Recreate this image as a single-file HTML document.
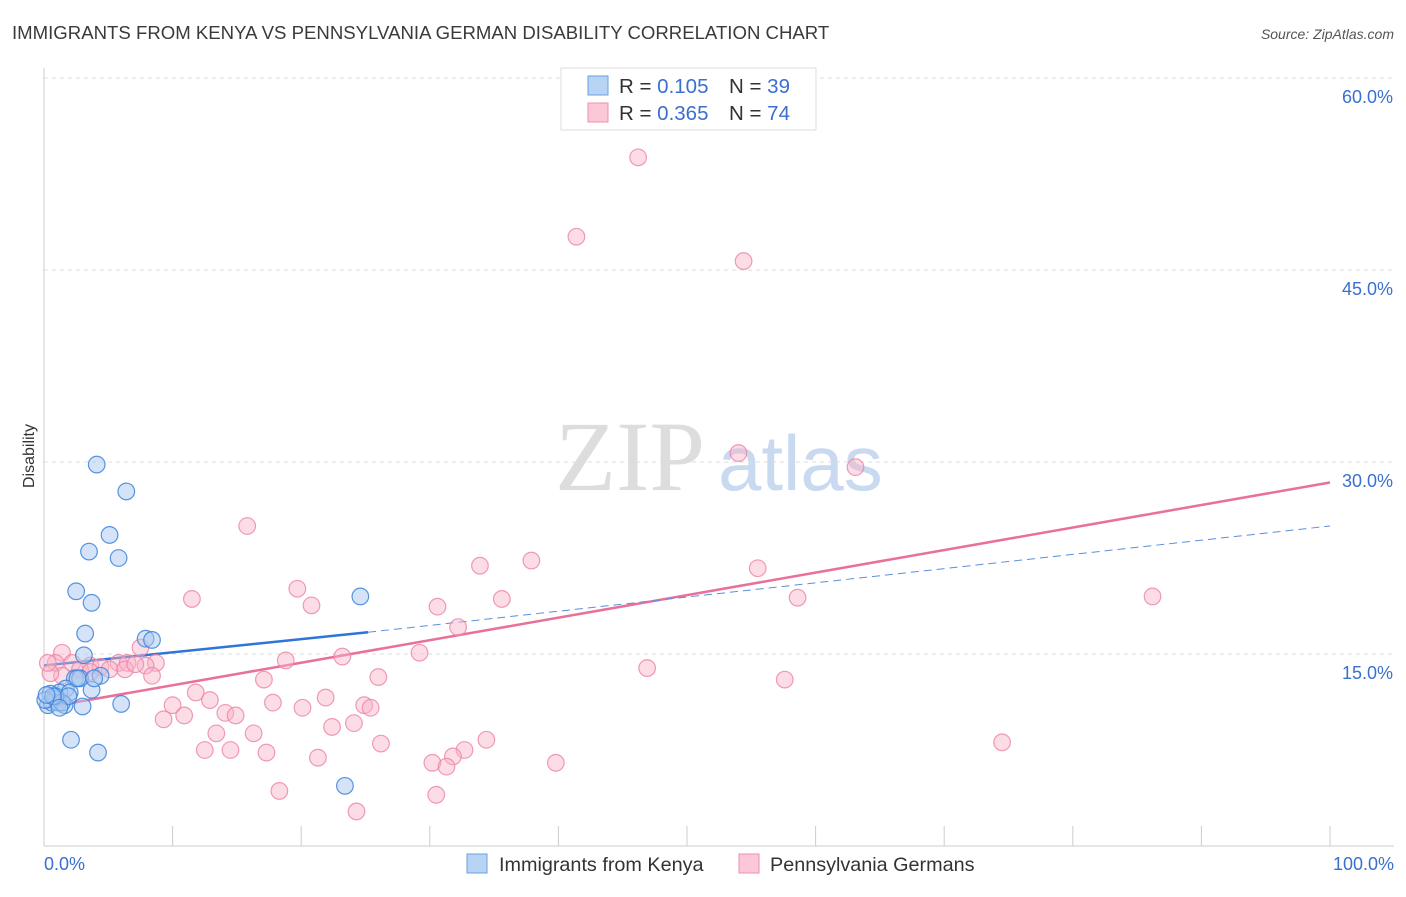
<!DOCTYPE html>
<html><head><meta charset="utf-8"><style>
body{margin:0;background:#fff;font-family:"Liberation Sans",sans-serif}
svg text{font-family:"Liberation Sans",sans-serif}
</style></head><body>
<svg id="chart" width="1406" height="892">
<text x="12" y="39" font-size="18.6" fill="#3a3a3a">IMMIGRANTS FROM KENYA VS PENNSYLVANIA GERMAN DISABILITY CORRELATION CHART</text>
<text x="1394" y="39" font-size="14" fill="#555" text-anchor="end" font-style="italic">Source: ZipAtlas.com</text>
<text x="34" y="456" font-size="16" fill="#333" text-anchor="middle" transform="rotate(-90 34 456)">Disability</text>
<g>
<text x="555" y="490" font-size="100" fill="#ddd" font-family="Liberation Serif" style="font-family:'Liberation Serif',serif">ZIP</text>
<text x="718" y="490" font-size="78" fill="#c9d9f0">atlas</text>
</g>
<g id="grid"></g><g id="axes"></g><g id="lines"></g><g id="pts"></g>
<g>
<rect x="561" y="68" width="255" height="62" fill="#fff" stroke="#ddd"/>
<rect x="588" y="76" width="20" height="19" fill="#b8d4f5" stroke="#6a9fe0"/>
<rect x="588" y="103" width="20" height="19" fill="#fcc8d8" stroke="#ec91ae"/>
<text x="619" y="93" font-size="20.5" fill="#333">R = <tspan fill="#3a6fd0">0.105</tspan><tspan x="729">N = </tspan><tspan fill="#3a6fd0">39</tspan></text>
<text x="619" y="120" font-size="20.5" fill="#333">R = <tspan fill="#3a6fd0">0.365</tspan><tspan x="729">N = </tspan><tspan fill="#3a6fd0">74</tspan></text>
</g>
<g>
<rect x="467" y="854" width="20" height="19" fill="#b8d4f5" stroke="#6a9fe0"/>
<text x="499" y="871" font-size="19.8" fill="#333">Immigrants from Kenya</text>
<rect x="739" y="854" width="20" height="19" fill="#fcc8d8" stroke="#ec91ae"/>
<text x="770" y="871" font-size="19.8" fill="#333">Pennsylvania Germans</text>
</g>
</svg>
<script>
const yTicks=[15,30,45,60];
const xTickLabels=["0.0%","100.0%"];
const kenyaX=[4.1,6.4,5.1,3.5,5.8,2.5,3.7,3.2,7.9,8.4,24.6,3.1,2.4,2.8,4.4,3.7,1.7,1.2,2.0,0.5,0.9,0.3,0.6,1.1,1.6,3.0,6.0,2.1,4.2,23.4,1.4,0.9,2.6,3.9,1.9,0.1,0.7,1.2,0.2];
const kenyaY=[29.8,27.7,24.3,23.0,22.5,19.9,19.0,16.6,16.2,16.1,19.5,14.9,13.1,13.1,13.3,12.2,12.3,12.0,12.0,11.9,11.5,11.0,11.2,11.2,11.0,10.9,11.1,8.3,7.3,4.7,11.2,11.7,13.1,13.1,11.7,11.4,11.7,10.8,11.8];
const paX=[46.2,41.4,54.4,54.0,63.1,15.8,37.9,33.9,55.5,19.7,11.5,20.8,35.6,58.6,30.6,86.2,32.2,7.5,1.4,29.2,18.8,23.2,0.9,2.2,3.6,4.4,5.8,6.5,8.7,7.9,5.1,2.8,6.3,8.4,26.0,17.1,46.9,57.6,11.8,12.9,21.9,10.0,17.8,20.1,24.9,25.4,10.9,9.3,14.1,14.9,24.1,22.4,13.4,16.3,34.4,12.5,14.5,17.3,26.2,32.7,31.8,21.3,30.2,39.8,31.3,74.5,18.3,30.5,24.3,1.4,0.5,3.6,7.1,0.3];
const paY=[53.8,47.6,45.7,30.7,29.6,25.0,22.3,21.9,21.7,20.1,19.3,18.8,19.3,19.4,18.7,19.5,17.1,15.5,15.1,15.1,14.5,14.8,14.3,14.3,14.1,14.0,14.3,14.3,14.3,14.1,13.8,13.8,13.8,13.3,13.2,13.0,13.9,13.0,12.0,11.4,11.6,11.0,11.2,10.8,11.0,10.8,10.2,9.9,10.4,10.2,9.6,9.3,8.8,8.8,8.3,7.5,7.5,7.3,8.0,7.5,7.0,6.9,6.5,6.5,6.2,8.1,4.3,4.0,2.7,13.3,13.5,13.6,14.2,14.3];
const kenyaLine=[14.1,16.7];
const paLine=[10.8,28.4];
const kenyaDash=[16.7,25.0];
const NS="http://www.w3.org/2000/svg";
const X=v=>44+v*12.86, Y=v=>846-v*12.8;
function mk(tag,attrs,parent){const e=document.createElementNS(NS,tag);for(const k in attrs)e.setAttribute(k,attrs[k]);document.getElementById(parent).appendChild(e);return e;}
yTicks.forEach(t=>{
 const l=mk('line',{x1:44,x2:1394,y1:Y(t),y2:Y(t),stroke:'#ddd','stroke-dasharray':'4,4'},'grid');
 
 
 const tx=mk('text',{x:1393,y:Y(t)+25,'font-size':18,fill:'#3a6fd0','text-anchor':'end'},'grid');
 tx.textContent=t.toFixed(1)+'%';
 
 
});
const ya=mk('line',{x1:44,x2:44,y1:68,y2:846,stroke:'#ccc'},'axes');


const xa=mk('line',{x1:44,x2:1394,y1:846,y2:846,stroke:'#ccc'},'axes');


for(let i=0;i<=10;i++){const t=mk('line',{x1:X(i*10),x2:X(i*10),y1:826,y2:846,stroke:'#ccc'},'axes');
 
 }
[[44,'start'],[1394,'end']].forEach((p,i)=>{const t=mk('text',{x:p[0],y:870,'font-size':18,fill:'#3a6fd0','text-anchor':p[1]},'axes');t.textContent=xTickLabels[i];
 
 });
function dots(xs,ys,fill,stroke,name){xs.forEach((x,i)=>{const c=mk('circle',{cx:X(x),cy:Y(ys[i]),r:8.3,fill:fill,stroke:stroke,'stroke-width':1.2},'pts');
 
 });}
dots(paX,paY,'rgba(248,180,200,0.45)','rgba(236,130,165,0.8)','pa-german-point');
dots(kenyaX,kenyaY,'rgba(170,200,240,0.5)','rgba(60,130,220,0.85)','kenya-point');
const l1=mk('line',{x1:X(0),y1:Y(paLine[0]),x2:X(100),y2:Y(paLine[1]),stroke:'#e8709a','stroke-width':2.5},'lines');


const l2=mk('line',{x1:X(0),y1:Y(kenyaLine[0]),x2:X(25.2),y2:Y(kenyaLine[1]),stroke:'#2f74d8','stroke-width':2.5},'lines');


const l3=mk('line',{x1:X(25.2),y1:Y(kenyaDash[0]),x2:X(100),y2:Y(kenyaDash[1]),stroke:'#5a8fdc','stroke-width':1,'stroke-dasharray':'8,5'},'lines');


</script>
</body></html>
